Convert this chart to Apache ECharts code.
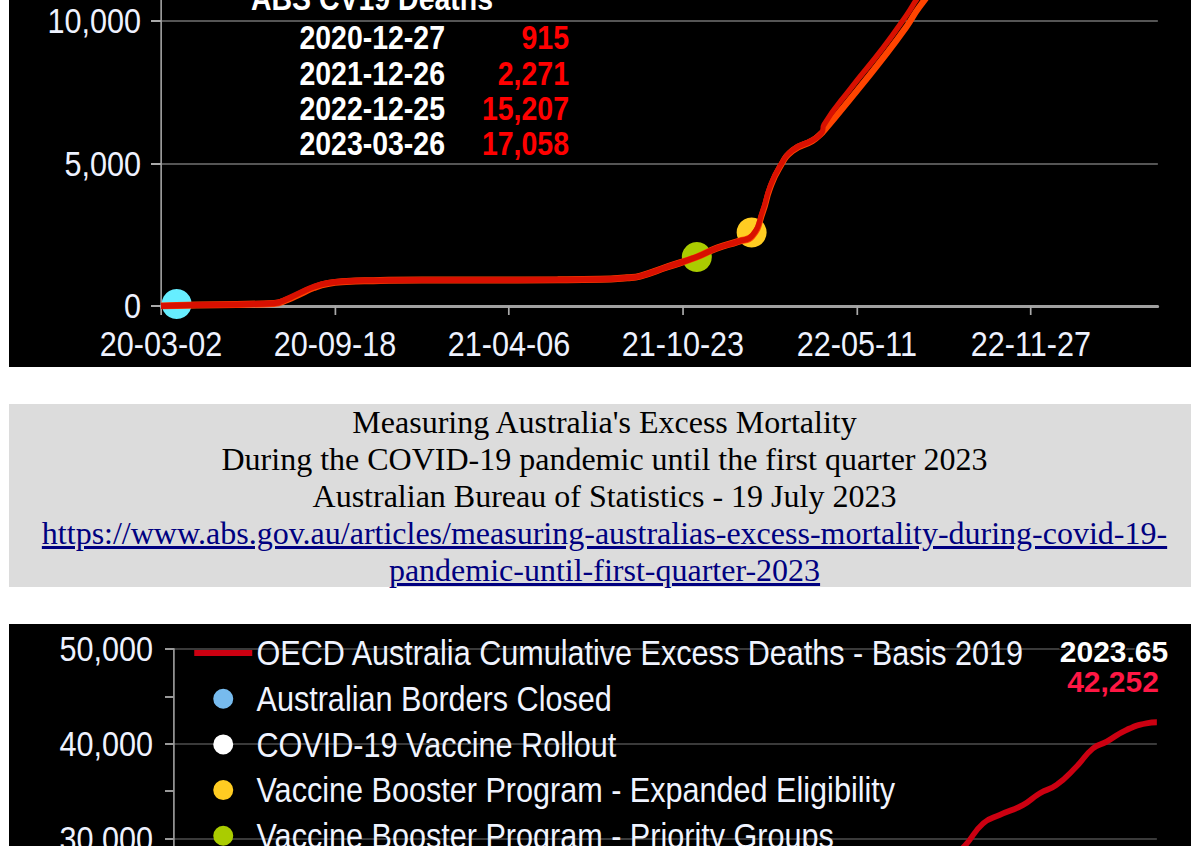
<!DOCTYPE html>
<html>
<head>
<meta charset="utf-8">
<script src="https://cdn.jsdelivr.net/npm/echarts@6/dist/echarts.min.js"></script>
<style>
  html, body { margin: 0; padding: 0; width: 1191px; height: 846px; overflow: hidden; background: #fff; position: relative; }
  /* charts are laid out wider and squeezed horizontally to get the narrow lettering of the original */
  #topChart { position: absolute; left: 9px; top: -300px; width: 1401.2px; height: 667px; background: #000; transform: scaleX(0.85); transform-origin: 0 0; }
  #info {
    position: absolute; left: 9px; top: 404px; width: 1191px; height: 183px; background: #dcdcdc;
    font-family: 'Liberation Serif', 'Times New Roman', serif; font-size: 32px; line-height: 37px;
    text-align: center; color: #000;
  }
  #info a { color: #000080; }
  #bottomChart { position: absolute; left: 9px; top: 624px; width: 1401.2px; height: 560px; background: #000; transform: scaleX(0.85); transform-origin: 0 0; }
</style>
</head>
<body>
<div id="topChart"></div>
<div id="info">
  Measuring Australia's Excess Mortality<br>
  During the COVID-19 pandemic until the first quarter 2023<br>
  Australian Bureau of Statistics - 19 July 2023<br>
  <a href="https://www.abs.gov.au/articles/measuring-australias-excess-mortality-during-covid-19-pandemic-until-first-quarter-2023">https://www.abs.gov.au/articles/measuring-australias-excess-mortality-during-covid-19-pandemic-until-first-quarter-2023</a>
</div>
<div id="bottomChart"></div>
<script>
// ---- top chart: ABS cumulative COVID-19 deaths ----
const absDates = ['2020-03-02', '2020-03-20', '2020-07-10', '2020-07-25', '2020-08-10', '2020-08-25', '2020-09-10',
  '2020-10-01', '2020-11-01', '2020-12-27', '2021-03-01', '2021-06-01', '2021-07-20', '2021-08-20', '2021-09-04',
  '2021-10-05', '2021-11-08', '2021-12-01', '2021-12-26', '2022-01-11', '2022-01-23', '2022-01-31', '2022-02-11',
  '2022-02-26', '2022-03-21', '2022-04-01', '2022-04-03', '2022-05-03', '2022-06-10', '2022-07-07', '2022-07-22',
  '2022-09-01', '2022-10-15', '2022-12-25', '2023-03-26'];
const absDeathsA = [0, 20, 100, 250, 480, 680, 810, 870, 895, 915, 915, 920, 935, 990, 1050,
  1370, 1720, 2030, 2271, 2480, 3370, 4180, 4880, 5470, 5820, 6100, 6350, 7600, 9050, 10200, 10900,
  12500, 14000, 15207, 17058];
const absDeathsB = [0, 20, 90, 220, 440, 650, 790, 860, 890, 915, 915, 920, 935, 990, 1050,
  1370, 1720, 2030, 2271, 2460, 3300, 4120, 4850, 5450, 5800, 6080, 6150, 7250, 8700, 9800, 10500,
  12100, 13700, 15000, 16900];
const topEventNames = ['Australian Borders Closed', 'Vaccine Booster Program - Priority Groups', 'Vaccine Booster Program - Expanded Eligibility'];
const topEventDates = ['2020-03-20', '2021-11-08', '2022-01-10'];
const topEventValues = [70, 1720, 2580];
const topEventColors = ['#66eeff', '#aacc00', '#ffcc22'];
const tableDates = ['2020-12-27', '2021-12-26', '2022-12-25', '2023-03-26'];
const tableValues = [915, 2271, 15207, 17058];
const topTickDays = [0, 200, 400, 600, 800, 1000];

// ---- bottom chart: OECD cumulative excess deaths ----
const oecdYears = [2022.88, 2022.936, 2023.005, 2023.066, 2023.153, 2023.215, 2023.277, 2023.351, 2023.413,
  2023.463, 2023.537, 2023.611, 2023.65];
const oecdExcess = [27800, 29190, 31590, 32470, 33530, 34760, 35640, 37570, 39510, 40210, 41450, 42150, 42252];
const eventNames = ['Australian Borders Closed', 'COVID-19 Vaccine Rollout',
  'Vaccine Booster Program - Expanded Eligibility', 'Vaccine Booster Program - Priority Groups'];
const eventYears = [2020.22, 2021.14, 2022.02, 2021.85];
const eventValues = [0, 1500, 6000, 4000];
const eventColors = ['#77bbee', '#ffffff', '#ffcc22', '#aacc00'];
const oecdName = 'OECD Australia Cumulative Excess Deaths - Basis 2019';
const lastLabelYear = '2023.65';
const lastLabelValue = 42252;

const SX = 0.85;                        // horizontal squeeze of the chart boxes
const px = (pageX) => (pageX - 9) / SX; // page x -> chart x
const sans = "'Liberation Sans', Arial, sans-serif";
const ellipse = 'path://M0,1A1.1765,1,0,1,1,2.353,1A1.1765,1,0,1,1,0,1Z';

const DAY0 = Date.UTC(2020, 2, 2);
const dayIdx = (s) => {
  const [y, m, d] = s.split('-').map(Number);
  return Math.round((Date.UTC(y, m - 1, d) - DAY0) / 864e5);
};
const fmtDay = (v) => {
  const dt = new Date(DAY0 + v * 864e5);
  const p = (n) => String(n).padStart(2, '0');
  return p(dt.getUTCFullYear() % 100) + '-' + p(dt.getUTCMonth() + 1) + '-' + p(dt.getUTCDate());
};
const fmtNum = (v) => v.toLocaleString('en-US');

const topChart = echarts.init(document.getElementById('topChart'), null, {renderer: 'svg'});
topChart.setOption({
  backgroundColor: '#000',
  animation: false,
  grid: {left: px(161), right: (1200 - 1158) / SX, top: 36, bottom: 61, outerBoundsMode: 'none'},
  xAxis: {
    type: 'value', min: 0, max: 1146,
    axisLine: {show: true, lineStyle: {color: '#a0a0a0', width: 3}},
    axisTick: {show: true, customValues: topTickDays, length: 9, lineStyle: {color: '#aaa', width: 2}},
    axisLabel: {customValues: topTickDays, formatter: fmtDay, color: '#eef2ff', fontSize: 36, fontFamily: sans, margin: 20},
    splitLine: {show: false}
  },
  yAxis: {
    type: 'value', min: 0, max: 20000, interval: 5000,
    axisLine: {show: true, lineStyle: {color: '#999', width: 2}},
    axisTick: {show: true, length: 10 / SX, lineStyle: {color: '#aaa', width: 2}},
    axisLabel: {formatter: fmtNum, color: '#eef2ff', fontSize: 36, fontFamily: sans, margin: 20 / SX},
    splitLine: {lineStyle: {color: '#555', width: 2}}
  },
  graphic: [
    {type: 'text', x: px(372), y: 299, style: {text: 'ABS CV19 Deaths', fill: '#fff', font: 'bold 33.5px ' + sans, align: 'center', verticalAlign: 'middle'}},
    ...tableDates.map((d, i) => ({
      type: 'text', x: px(445), y: 338 + i * 35.2,
      style: {text: d, fill: '#fff', font: 'bold 33.5px ' + sans, align: 'right', verticalAlign: 'middle'}
    })),
    ...tableValues.map((v, i) => ({
      type: 'text', x: px(569), y: 338 + i * 35.2,
      style: {text: fmtNum(v), fill: '#ff0000', font: 'bold 33.5px ' + sans, align: 'right', verticalAlign: 'middle'}
    }))
  ],
  series: [
    ...topEventNames.map((n, i) => ({
      name: n, type: 'scatter', symbolSize: [30 / SX, 30], z: 1,
      itemStyle: {color: topEventColors[i], opacity: 1},
      data: [[dayIdx(topEventDates[i]), topEventValues[i]]]
    })),
    {
      name: 'ABS B', type: 'line', smooth: true, symbol: 'none', z: 2,
      lineStyle: {color: '#ff4400', width: 7},
      data: absDates.map((d, i) => [dayIdx(d), absDeathsB[i]])
    },
    {
      name: 'ABS A', type: 'line', smooth: true, symbol: 'none', z: 3,
      lineStyle: {color: '#d81000', width: 6},
      data: absDates.map((d, i) => [dayIdx(d), absDeathsA[i]])
    }
  ]
});

const bottomChart = echarts.init(document.getElementById('bottomChart'), null, {renderer: 'svg'});
bottomChart.setOption({
  backgroundColor: '#000',
  animation: false,
  grid: {left: px(174), right: (1200 - 1157) / SX, top: 25, bottom: 61.5, outerBoundsMode: 'none'},
  legend: {
    orient: 'vertical', left: px(190), top: 6, itemWidth: 58 / SX, itemHeight: 20, itemGap: 9.7,
    textStyle: {color: '#f0f4ff', fontSize: 36, fontFamily: sans, lineHeight: 36},
    data: [
      {name: oecdName, icon: 'path://M0,0H68V6H0Z', itemStyle: {color: '#cc0011'}},
      ...eventNames.map((n, i) => ({name: n, icon: ellipse, itemStyle: {color: eventColors[i]}}))
    ]
  },
  xAxis: {
    type: 'value', min: 2020, max: 2023.65,
    axisLine: {show: true, lineStyle: {color: '#999', width: 2}},
    axisLabel: {show: false},
    splitLine: {show: false}
  },
  yAxis: {
    type: 'value', min: 0, max: 50000, interval: 10000,
    axisLine: {show: true, lineStyle: {color: '#999', width: 2}},
    axisTick: {show: true, length: 9 / SX, lineStyle: {color: '#999', width: 2}},
    minorTick: {show: true, splitNumber: 2, length: 9 / SX, lineStyle: {color: '#999', width: 2}},
    axisLabel: {formatter: fmtNum, color: '#eef2ff', fontSize: 36, fontFamily: sans, margin: 21 / SX},
    splitLine: {lineStyle: {color: '#3a3a3a', width: 2}}
  },
  graphic: [
    {type: 'text', x: px(1114), y: 27, z: 100, scaleX: 1 / SX, style: {text: lastLabelYear, fill: '#fff', stroke: '#000', lineWidth: 3, font: 'bold 30px ' + sans, align: 'center', verticalAlign: 'middle'}},
    {type: 'text', x: px(1113), y: 57, z: 100, scaleX: 1 / SX, style: {text: fmtNum(lastLabelValue), fill: '#ff1744', font: 'bold 30px ' + sans, align: 'center', verticalAlign: 'middle'}}
  ],
  series: [
    {
      name: oecdName, type: 'line', smooth: true, symbol: 'none',
      lineStyle: {color: '#cc0011', width: 6}, itemStyle: {color: '#cc0011'},
      data: oecdYears.map((y, i) => [y, oecdExcess[i]])
    },
    ...eventNames.map((n, i) => ({
      name: n, type: 'scatter', symbolSize: [20 / SX, 20], itemStyle: {color: eventColors[i], opacity: 1},
      data: [[eventYears[i], eventValues[i]]]
    }))
  ]
});
</script>
</body>
</html>
